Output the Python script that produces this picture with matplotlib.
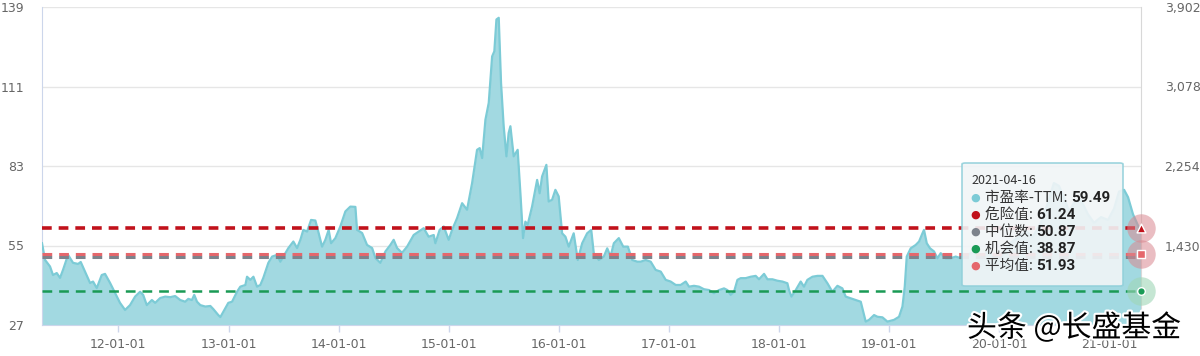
import datetime as dt
import numpy as np
import matplotlib
matplotlib.use("Agg")
import matplotlib.pyplot as plt
import matplotlib.dates as mdates
import matplotlib.patheffects as pe
from matplotlib.patches import FancyBboxPatch

plt.rcParams['font.family'] = ['Noto Sans CJK SC', 'DejaVu Sans']
plt.rcParams['lines.scale_dashes'] = False

# decimal years of the PE-TTM samples
year_frac = [
    2011.306, 2011.334, 2011.379, 2011.406, 2011.440, 2011.470, 2011.497, 2011.543, 2011.588, 2011.634,
    2011.658, 2011.697, 2011.743, 2011.770, 2011.804, 2011.849, 2011.879, 2011.925, 2011.970, 2012.015,
    2012.061, 2012.106, 2012.152, 2012.197, 2012.225, 2012.258, 2012.304, 2012.334, 2012.379, 2012.425,
    2012.470, 2012.515, 2012.561, 2012.606, 2012.634, 2012.667, 2012.688, 2012.713, 2012.743, 2012.788,
    2012.834, 2012.861, 2012.906, 2012.925, 2012.952, 2012.997, 2013.031, 2013.076, 2013.106, 2013.152,
    2013.167, 2013.197, 2013.225, 2013.258, 2013.288, 2013.315, 2013.361, 2013.395, 2013.440, 2013.470,
    2013.497, 2013.543, 2013.588, 2013.622, 2013.652, 2013.679, 2013.713, 2013.749, 2013.788, 2013.818,
    2013.849, 2013.879, 2013.909, 2013.931, 2013.970, 2014.015, 2014.061, 2014.106, 2014.152, 2014.167,
    2014.213, 2014.258, 2014.304, 2014.334, 2014.379, 2014.425, 2014.470, 2014.500, 2014.531, 2014.576,
    2014.622, 2014.682, 2014.727, 2014.773, 2014.818, 2014.864, 2014.879, 2014.918, 2014.955, 2015.000,
    2015.031, 2015.076, 2015.122, 2015.167, 2015.213, 2015.258, 2015.282, 2015.304, 2015.334, 2015.364,
    2015.395, 2015.415, 2015.434, 2015.455, 2015.476, 2015.500, 2015.525, 2015.545, 2015.561, 2015.591,
    2015.627, 2015.652, 2015.676, 2015.697, 2015.718, 2015.758, 2015.804, 2015.827, 2015.849, 2015.888,
    2015.909, 2015.940, 2015.970, 2016.000, 2016.031, 2016.061, 2016.091, 2016.136, 2016.173, 2016.213,
    2016.258, 2016.295, 2016.318, 2016.364, 2016.409, 2016.440, 2016.470, 2016.500, 2016.545, 2016.585,
    2016.627, 2016.667, 2016.713, 2016.743, 2016.788, 2016.834, 2016.879, 2016.925, 2016.970, 2017.015,
    2017.061, 2017.106, 2017.152, 2017.182, 2017.227, 2017.273, 2017.318, 2017.364, 2017.409, 2017.455,
    2017.500, 2017.531, 2017.561, 2017.591, 2017.622, 2017.652, 2017.697, 2017.743, 2017.788, 2017.818,
    2017.864, 2017.895, 2017.940, 2017.985, 2018.031, 2018.076, 2018.091, 2018.113, 2018.152, 2018.197,
    2018.227, 2018.258, 2018.304, 2018.349, 2018.395, 2018.440, 2018.485, 2018.531, 2018.576, 2018.606,
    2018.652, 2018.697, 2018.743, 2018.788, 2018.818, 2018.864, 2018.895, 2018.940, 2018.985, 2019.045,
    2019.091, 2019.122, 2019.143, 2019.161, 2019.197, 2019.243, 2019.273, 2019.304, 2019.318, 2019.343,
    2019.373, 2019.409, 2019.440, 2019.470, 2019.515, 2019.561, 2019.606, 2019.652, 2019.697, 2019.761,
    2019.834, 2019.906, 2019.970, 2020.034, 2020.106, 2020.179, 2020.243, 2020.306, 2020.379, 2020.443,
    2020.497, 2020.543, 2020.588, 2020.634, 2020.679, 2020.743, 2020.806, 2020.861, 2020.925, 2020.988,
    2021.043, 2021.088, 2021.134, 2021.170, 2021.215, 2021.261, 2021.290,
]
pe_ttm = [
    55.8, 49.9, 47.6, 44.6, 45.3, 43.6, 46.4, 51.7, 48.9, 48.5,
    49.2, 45.8, 41.8, 42.3, 40.0, 44.6, 45.0, 41.8, 38.3, 34.8,
    32.3, 34.0, 37.0, 38.7, 37.6, 34.0, 35.8, 34.8, 36.5, 37.0,
    36.8, 37.2, 35.8, 35.2, 36.2, 35.8, 37.6, 35.2, 34.0, 33.5,
    33.7, 32.6, 30.5, 29.8, 31.7, 34.8, 35.2, 38.7, 40.5, 41.1,
    44.0, 42.9, 44.0, 40.5, 41.1, 43.6, 48.9, 51.1, 51.7, 49.3,
    51.1, 54.1, 56.4, 54.1, 57.0, 60.5, 59.9, 64.0, 63.8, 59.4,
    54.6, 57.0, 60.5, 55.8, 57.6, 61.7, 67.0, 68.7, 68.6, 60.5,
    59.4, 55.2, 54.1, 50.6, 48.9, 52.9, 55.2, 57.0, 54.1, 52.4,
    54.6, 58.7, 59.9, 61.1, 58.1, 58.7, 55.8, 60.5, 61.7, 57.0,
    60.5, 64.6, 69.9, 67.6, 77.0, 88.7, 89.3, 85.8, 99.3, 105.2,
    121.6, 123.4, 134.6, 135.2, 112.2, 97.0, 86.4, 94.6, 97.0, 86.4,
    88.7, 73.4, 57.6, 63.4, 62.3, 68.7, 78.1, 73.4, 79.3, 83.4,
    70.5, 71.1, 74.6, 72.3, 59.3, 58.1, 54.6, 59.3, 49.9, 55.8,
    59.3, 60.5, 52.3, 49.9, 51.1, 54.0, 51.1, 55.8, 57.6, 54.6,
    54.6, 49.9, 49.3, 49.3, 49.9, 49.3, 46.4, 45.8, 42.9, 42.3,
    41.1, 41.1, 42.3, 40.5, 40.8, 40.5, 39.6, 39.3, 38.2, 39.3,
    39.9, 39.3, 37.6, 38.7, 42.9, 43.5, 43.5, 44.0, 44.3, 43.1,
    45.0, 43.1, 43.1, 42.6, 42.3, 41.7, 39.3, 37.0, 39.3, 42.3,
    40.5, 42.9, 44.0, 44.3, 44.3, 41.7, 38.7, 40.8, 39.9, 37.0,
    36.4, 35.8, 35.2, 28.2, 28.8, 30.5, 29.9, 29.7, 28.2, 28.8,
    29.9, 33.5, 40.5, 51.1, 54.0, 55.2, 56.4, 59.3, 60.5, 55.8,
    54.0, 52.9, 50.5, 52.3, 50.5, 50.5, 51.1, 50.5, 51.5, 52.5,
    51.0, 53.0, 49.5, 52.0, 56.0, 58.0, 60.0, 58.0, 63.0, 70.0,
    77.0, 76.0, 72.0, 67.0, 70.0, 71.0, 66.0, 63.0, 65.0, 64.0,
    68.0, 74.0, 74.6, 72.0, 66.0, 62.0, 59.49,
]

danger_val = 61.24
median_val = 50.87
chance_val = 38.87
mean_val = 51.93
last_date = '2021-04-16'

left_ticks = [27, 55, 83, 111, 139]
right_ticks = [1430, 2254, 3078, 3902]
right_min = 606
tick_years = list(range(2012, 2022))


def to_datetime(t):
    y = int(t)
    start = dt.datetime(y, 1, 1)
    end = dt.datetime(y + 1, 1, 1)
    return start + (end - start) * (t - y)


dates = [to_datetime(t) for t in year_frac]
dates[-1] = dt.datetime.strptime(last_date, '%Y-%m-%d')

W, H = 1200, 356
fig = plt.figure(figsize=(W / 100, H / 100), dpi=100)
ax = fig.add_axes([42 / W, 1 - 325 / H, (1141 - 42) / W, (325 - 7) / H])

teal_fill = '#a2d9e1'
teal_line = '#7ccbd6'
c_danger = '#c1121c'
c_median = '#7d838c'
c_chance = '#1a9a55'
c_mean = '#e5676c'

ax.fill_between(dates, left_ticks[0], pe_ttm, color=teal_fill, lw=0, zorder=2)
ax.plot(dates, pe_ttm, color=teal_line, lw=1.6, zorder=3)

ax.axhline(mean_val, color=c_mean, lw=2.2, dashes=(7, 5), zorder=4)
ax.axhline(median_val, color=c_median, lw=2.2, dashes=(7, 5), zorder=4)
ax.axhline(danger_val, color=c_danger, lw=2.6, dashes=(7, 5), zorder=4)
ax.axhline(chance_val, color=c_chance, lw=1.8, dashes=(7, 5), zorder=4)

ax.set_xlim(to_datetime(2011.306), dates[-1])
ax.set_ylim(left_ticks[0], left_ticks[-1])
ax.set_yticks(left_ticks)
ax.yaxis.grid(True, color='#e6e6e6', lw=1, zorder=0)
ax.set_axisbelow(True)

ax.xaxis.set_major_formatter(mdates.DateFormatter('%y-%m-%d'))
ax.set_xticks([dt.datetime(y, 1, 1) for y in tick_years])

ax.tick_params(axis='y', length=0, pad=13, labelsize=9, labelcolor='#666666')
ax.tick_params(axis='x', length=5, width=1, color='#ccd6eb', pad=4, labelsize=9, labelcolor='#666666')
for lab in ax.get_xticklabels() + ax.get_yticklabels():
    lab.set_family('DejaVu Sans')

ax.spines['top'].set_visible(False)
ax.spines['left'].set_color('#ccd6eb')
ax.spines['bottom'].set_color('#ccd6eb')
ax.spines['right'].set_color('#d8d8d8')

ax2 = ax.twinx()
ax2.set_ylim(right_min, right_ticks[-1])
ax2.set_yticks(right_ticks)
ax2.set_yticklabels(['{:,}'.format(v) for v in right_ticks], family='DejaVu Sans')
ax2.tick_params(axis='y', length=0, pad=17, labelsize=9, labelcolor='#666666')
for s in ax2.spines.values():
    s.set_visible(False)

# end markers with halos
xe = dates[-1]
ax.scatter([xe, xe], [danger_val, mean_val], s=420, color='#d98890', alpha=0.55, lw=0, clip_on=False, zorder=6)
ax.scatter([xe], [chance_val], s=420, color='#9fd6b6', alpha=0.6, lw=0, clip_on=False, zorder=6)
ax.scatter([xe], [danger_val], s=40, marker='^', color=c_danger, edgecolor='white', lw=1, clip_on=False, zorder=7)
ax.scatter([xe], [mean_val], s=40, marker='s', color=c_mean, edgecolor='white', lw=1, clip_on=False, zorder=7)
ax.scatter([xe], [chance_val], s=30, marker='o', color=c_chance, edgecolor='white', lw=1, clip_on=False, zorder=7)

# tooltip
box = FancyBboxPatch((962 / W, 1 - 286 / H), (1123 - 962) / W, (286 - 163) / H,
                     boxstyle='round,pad=0,rounding_size=0.003', transform=fig.transFigure,
                     facecolor='#f1f5f7', edgecolor='#92d0da', lw=1.2, alpha=0.9, zorder=10)
fig.patches.append(box)
fig.text(971 / W, 1 - 181 / H, last_date, fontsize=9, color='#333333', va='center', zorder=11)

rows = [
    ('市盈率-TTM: ', pe_ttm[-1], teal_line),
    ('危险值: ', danger_val, c_danger),
    ('中位数: ', median_val, c_median),
    ('机会值: ', chance_val, c_chance),
    ('平均值: ', mean_val, c_mean),
]
row_y = [198, 215, 232, 249, 266]
fig.canvas.draw()
rend = fig.canvas.get_renderer()
for (lab, val, col), yy in zip(rows, row_y):
    fy = 1 - yy / H
    fig.text(975 / W, fy, '●', fontsize=8, color=col, ha='center', va='center', zorder=11,
             family='DejaVu Sans')
    t = fig.text(985 / W, fy, lab, fontsize=10.5, color='#333333', va='center', zorder=11)
    bb = t.get_window_extent(renderer=rend)
    fig.text(bb.x1 / W, fy, '{:.2f}'.format(val), fontsize=11, fontweight='bold',
             family=['Roboto', 'DejaVu Sans'], color='#222222', va='center', zorder=11)

wm = fig.text(967 / W, 1 - 328 / H, '头条 @长盛基金', fontsize=21.5, color='black', va='center', zorder=12)
wm.set_path_effects([pe.withStroke(linewidth=3, foreground='white')])

fig.savefig('out.png', dpi=100)
